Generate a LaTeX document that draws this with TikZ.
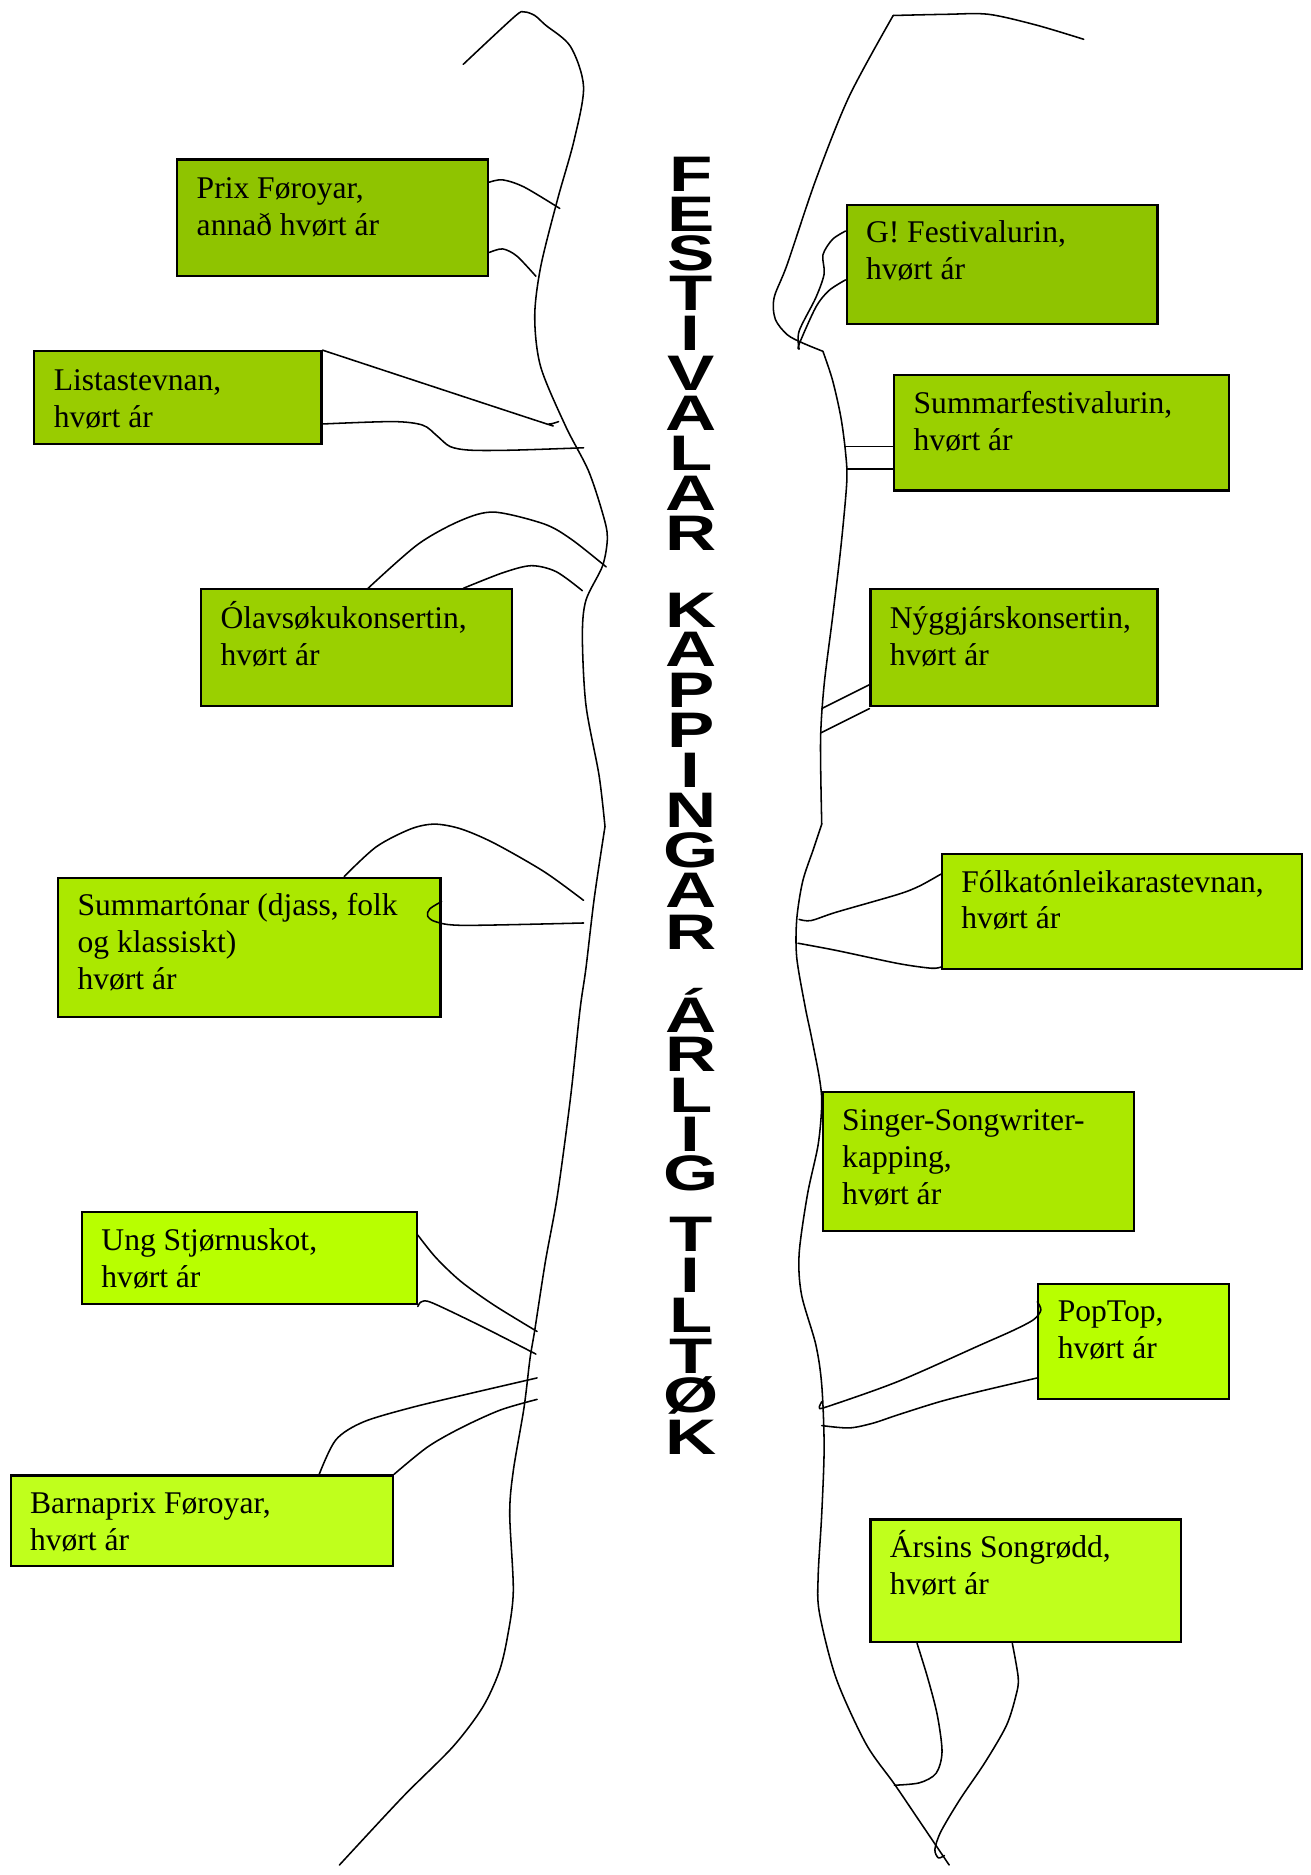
\documentclass[tikz,border=0pt]{standalone}
\usepackage{fontspec}
\usepackage{graphicx}
\setmainfont{Liberation Serif}
\newfontfamily\ttlfont{Liberation Sans}
\definecolor{cA}{HTML}{8FC400}
\definecolor{cB}{HTML}{99CC00}
\definecolor{cC}{HTML}{9AD000}
\definecolor{cD}{HTML}{ABE800}
\definecolor{cE}{HTML}{B8FF00}
\definecolor{cF}{HTML}{C0FF1C}
\tikzset{
  box/.style={draw=black, line width=1.8pt, anchor=north west, inner sep=0pt},
  lbl/.style={anchor=base west, inner sep=0pt, font=\fontsize{26.5}{31}\selectfont},
  ttl/.style={anchor=base, inner sep=0pt, font=\ttlfont\bfseries\fontsize{41.9}{42}\selectfont},
  ln/.style={line width=1.3pt, line join=round, line cap=round},
}
\newcommand{\lines}[1]{\parbox[t]{420pt}{#1}}
\begin{document}
\begin{tikzpicture}[x=1pt, y=-1pt]
\useasboundingbox (0,0) rectangle (1100.8,1574.4);

% ---- boxes ----
\node[box, fill=cA, minimum width=261pt, minimum height=98pt]  (prix)   at (148,133) {};
\node[box, fill=cB, minimum width=241pt, minimum height=78pt]  (lista)  at (28,294) {};
\node[box, fill=cC, minimum width=261pt, minimum height=98pt]  (olav)   at (168,494) {};
\node[box, fill=cD, minimum width=321pt, minimum height=117pt] (stona)  at (48,736) {};
\node[box, fill=cE, minimum width=281pt, minimum height=77pt]  (ung)    at (68,1017) {};
\node[box, fill=cF, minimum width=321pt, minimum height=76pt]  (barna)  at (8,1238) {};
\node[box, fill=cA, minimum width=261pt, minimum height=100pt] (gfest)  at (710,171) {};
\node[box, fill=cC, minimum width=281pt, minimum height=97pt]  (sumf)   at (750,314) {};
\node[box, fill=cC, minimum width=241pt, minimum height=98pt]  (nyggj)  at (730,494) {};
\node[box, fill=cD, minimum width=302pt, minimum height=97pt]  (folk)   at (790,716) {};
\node[box, fill=cD, minimum width=261pt, minimum height=117pt] (singer) at (690,916) {};
\node[box, fill=cE, minimum width=160pt, minimum height=97pt]  (poptop) at (871,1077) {};
\node[box, fill=cF, minimum width=261pt, minimum height=103pt] (arsins) at (730,1275) {};

% ---- box texts ----
\node[lbl] (prixT)   at (165,167)  {\lines{Prix Føroyar,\\annað hvørt ár}};
\node[lbl] (listaT)  at (45,328)   {\lines{Listastevnan,\\hvørt ár}};
\node[lbl] (olavT)   at (185,528)  {\lines{Ólavsøkukonsertin,\\hvørt ár}};
\node[lbl] (stonaT)  at (65,769)   {\lines{Summartónar (djass, folk\\og klassiskt)\\hvørt ár}};
\node[lbl] (ungT)    at (85,1050)  {\lines{Ung Stjørnuskot,\\hvørt ár}};
\node[lbl] (barnaT)  at (25,1271)  {\lines{Barnaprix Føroyar,\\hvørt ár}};
\node[lbl] (gfestT)  at (727,204)  {\lines{G! Festivalurin,\\hvørt ár}};
\node[lbl] (sumfT)   at (767,347)  {\lines{Summarfestivalurin,\\hvørt ár}};
\node[lbl] (nyggjT)  at (747,528)  {\lines{Nýggjárskonsertin,\\hvørt ár}};
\node[lbl] (folkT)   at (807,749)  {\lines{Fólkatónleikarastevnan,\\hvørt ár}};
\node[lbl] (singerT) at (707,949)  {\lines{Singer-Songwriter-\\kapping,\\hvørt ár}};
\node[lbl] (poptopT) at (888,1110) {\lines{PopTop,\\hvørt ár}};
\node[lbl] (arsinsT) at (747,1308) {\lines{Ársins Songrødd,\\hvørt ár}};

% ---- vertical title ----
\foreach \c/\yy [count=\n] in {F/160.5,E/194,S/227.5,T/261,I/294.5,V/328,A/361.5,L/395,A/428.5,R/462,
  K/527,A/560,P/594,P/627.5,I/661,N/695,G/728,A/762,R/797,
  Á/867,R/900,L/934,I/967,G/1000,
  T/1051,I/1085,L/1119,T/1153,Ø/1186,K/1221}
  \node[ttl] (t\n) at (580,\yy) {\scalebox{1.42}[1]{\c}};

% ---- left main line ----
\draw[ln] plot[smooth] coordinates {(389,54) (432,14) (440,10) (449,13) (458,21) (479,39) (490,73) (482,118) (468,168) (454,224) (449,266) (454,308) (475,358) (494,395) (506,431) (510,451) (506,475) (492,504) (489,534) (492,592) (503,651) (508,694)};
\draw[ln] plot[smooth] coordinates {(508,694) (499,754) (492,813) (487,848) (479,922) (468,1004) (458,1059) (449,1117) (445,1141) (440,1182) (431,1235) (428,1271) (431,1336) (426,1375) (419,1404) (405,1434) (380,1467) (338,1509) (285,1566)};

% ---- right main line ----
\draw[ln] plot[smooth] coordinates {(910,33) (870,21) (830,12) (795,12) (750,13)};
\draw[ln] plot[smooth] coordinates {(750,13) (713,81) (685,151) (661,222) (650,250) (651,268) (661,281) (674,288) (691,295)};
\draw[ln] plot[smooth] coordinates {(691,295) (699,319) (706,350) (710,380) (711,405) (706,460) (699,519) (692,575) (689,622) (690,692)};
\draw[ln] plot[smooth] coordinates {(690,692) (683,713) (674,740) (669,772) (669,804) (676,845) (681,869) (688,905) (690,927) (687,961) (678,1003) (671,1053) (673,1087) (685,1129) (690,1163) (692,1215) (690,1271) (687,1323) (688,1354) (702,1409) (727,1464) (751,1498) (772,1529) (797,1566)};

% ---- left connectors ----
\draw[ln] plot[smooth] coordinates {(prix.east |- 0,153) (422,151) (440,157) (470,175)};
\draw[ln] plot[smooth] coordinates {(prix.east |- 0,212) (422,209) (434,215) (450,232)};
\draw[ln] plot[smooth] coordinates {(lista.north east) (450,353) (461,356) (469,354)};
\draw[ln] plot[smooth] coordinates {(lista.east |- 0,356) (330,354) (355,357) (367,366) (378,375) (395,378) (430,378) (490,376)};
\draw[ln] plot[smooth] coordinates {(olav.north -| 309,0) (351,457) (387,437) (415,430) (457,440) (480,453) (509,476)};
\draw[ln] plot[smooth] coordinates {(olav.north -| 389,0) (422,481) (446,475) (467,480) (489,496)};
\draw[ln] plot[smooth] coordinates {(stona.north -| 289,0) (316,711) (345,696) (365,692) (387,696) (415,708) (457,732) (490,756)};
\draw[ln] plot[smooth] coordinates {(stona.east |- 0,757) (361,763) (359,769) (366,774) (390,777) (490,775)};
\draw[ln] plot[smooth] coordinates {(ung.east |- 0,1037) (366,1056) (387,1076) (415,1096) (451,1118)};
\draw[ln] plot[smooth] coordinates {(ung.east |- 0,1097) (354,1093) (363,1094) (405,1114) (450,1137)};
\draw[ln] plot[smooth] coordinates {(barna.north -| 268,0) (282,1209) (305,1194) (345,1182) (395,1170) (451,1157)};
\draw[ln] plot[smooth] coordinates {(barna.north east) (359,1215) (387,1199) (420,1184) (451,1175)};

% ---- right connectors ----
\draw[ln] plot[smooth] coordinates {(gfest.west |- 0,194) (699,201) (691,214) (692,230) (685,250) (671,278) (671,293)};
\draw[ln] plot[smooth] coordinates {(gfest.west |- 0,235) (696,244) (685,258) (671,289) (671,293)};
\draw[ln] (sumf.west |- 0,375) -- (710,375);
\draw[ln] (sumf.west |- 0,394) -- (711,394);
\draw[ln] (nyggj.west |- 0,575) -- (690,595);
\draw[ln] (nyggj.west |- 0,595) -- (690,615);
\draw[ln] plot[smooth] coordinates {(folk.west |- 0,734) (772,744) (754,751) (702,766) (681,773) (671,772)};
\draw[ln] plot[smooth] coordinates {(670,792) (702,798) (754,809) (782,813) (folk.west |- 0,812)};
\draw[ln] plot[smooth] coordinates {(poptop.west |- 0,1093) (874,1100) (868,1108) (851,1117) (824,1129) (754,1160) (695,1181) (688,1182) (690,1177)};
\draw[ln] plot[smooth] coordinates {(poptop.west |- 0,1157) (824,1168) (789,1177) (754,1188) (733,1195) (713,1199) (690,1197)};
\draw[ln] plot[smooth] coordinates {(arsins.south -| 770,0) (779,1409) (787,1440) (791,1471) (786,1489) (772,1497) (751,1499)};
\draw[ln] plot[smooth] coordinates {(arsins.south -| 850,0) (855,1409) (853,1424) (845,1449) (827,1480) (806,1511) (790,1538) (785,1553) (788,1560) (793,1558)};
\end{tikzpicture}
\end{document}
